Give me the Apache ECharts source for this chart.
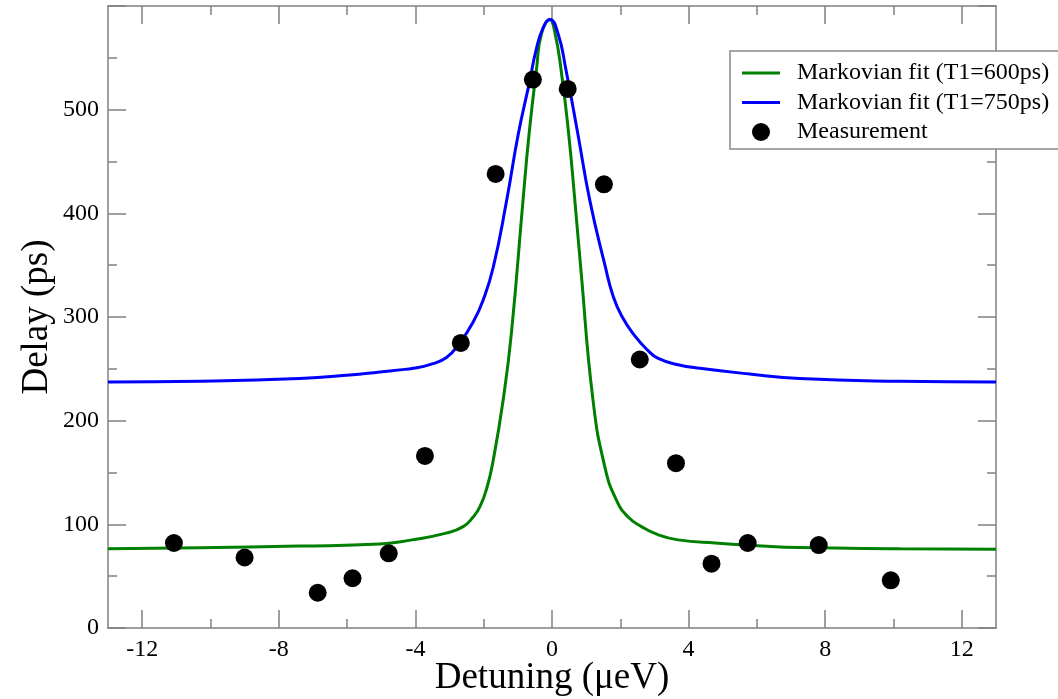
<!DOCTYPE html>
<html>
<head>
<meta charset="utf-8">
<script src="https://cdn.jsdelivr.net/npm/echarts@6/dist/echarts.min.js"></script>
<style>
  html, body { margin: 0; padding: 0; background: #fff; }
  #chart { width: 1058px; height: 699px; }
</style>
</head>
<body>
<div id="chart"></div>
<script>
// 数据
var greenX = [-13, -10.3, -7.4, -5.04, -4.1, -3.1, -2.6, -2.31, -2.11, -1.9, -1.72, -1.43, -1.19, -0.85, -0.67, -0.45, -0.31, -0.06, 0.08, 0.26, 0.49, 0.67, 0.84, 1.20, 1.55, 1.89, 2.23, 2.62, 3.1, 3.69, 4.77, 7.25, 10.2, 13];
var greenY = [76.5, 77.5, 79, 81, 85, 91.5, 97.8, 107, 117, 136, 162, 220, 284, 412, 477, 540, 573, 587, 575, 540, 476, 412, 348, 220, 155, 123, 107, 97.8, 90, 85, 82, 77.6, 76.5, 76];
var blueX = [-13, -10.3, -7.39, -5.92, -5.04, -4.46, -4.06, -3.58, -3.09, -2.70, -2.31, -2.02, -1.72, -1.33, -0.99, -0.65, -0.47, -0.26, -0.06, 0.18, 0.40, 0.76, 1.11, 1.55, 1.79, 2.04, 2.42, 2.8, 3.11, 3.69, 4.33, 5.79, 7.25, 10.18, 13];
var blueY = [237.3, 238, 240.6, 244, 247, 249, 250.5, 254, 261, 275, 295, 316, 348, 412, 476, 528, 557, 579, 587, 573, 540, 476, 412, 350, 320, 301, 282, 268, 260, 254, 250.5, 245, 240.6, 238, 237.3];
var measX = [-11.07, -9.0, -6.86, -5.84, -4.78, -3.72, -2.67, -1.65, -0.56, 0.46, 1.52, 2.57, 3.63, 4.67, 5.73, 7.81, 9.92];
var measY = [82, 68, 34, 48, 72, 166, 275, 438, 529, 520, 428, 259, 159, 62, 82, 80, 46];
var xMajor = [-12, -8, -4, 0, 4, 8, 12];
var xMinor = [-10, -6, -2, 2, 6, 10];
var names = ['Markovian fit (T1=600ps)', 'Markovian fit (T1=750ps)', 'Measurement'];

function zip(xs, ys) {
    var out = [];
    for (var i = 0; i < xs.length; i++) out.push([xs[i], ys[i]]);
    return out;
}

var FONT = 'Liberation Serif';
var axisGrey = '#808080';
var lineIcon = 'path://M0,0H38V3H0Z';

// x 轴：主刻度 + 次刻度，上下两边
function xAx(pos, ticks, len, showLabel, showLine) {
    return {
        type: 'value', position: pos, min: -13, max: 13,
        axisLine: { show: showLine, onZero: false, lineStyle: { color: axisGrey, width: 1.5 } },
        axisTick: { show: true, inside: true, length: len, customValues: ticks, lineStyle: { color: axisGrey, width: 1.5 } },
        axisLabel: { show: showLabel, customValues: ticks, color: '#000', fontFamily: FONT, fontSize: 24, margin: 10 },
        splitLine: { show: false }
    };
}

var xAxes = [
    xAx('bottom', xMajor, 18, true, true),
    xAx('bottom', xMinor, 9, false, false),
    xAx('top', xMajor, 18, false, true),
    xAx('top', xMinor, 9, false, false)
];
xAxes[0].name = 'Detuning (μeV)';
xAxes[0].nameLocation = 'middle';
xAxes[0].nameGap = 32;
xAxes[0].nameMoveOverlap = false;
xAxes[0].nameTextStyle = { color: '#000', fontFamily: FONT, fontSize: 37 };

function yAx(pos, showLabel) {
    return {
        type: 'value', position: pos, min: 0, max: 600, interval: 100,
        axisLine: { show: true, onZero: false, lineStyle: { color: axisGrey, width: 1.5 } },
        axisTick: { show: true, inside: true, length: 18, lineStyle: { color: axisGrey, width: 1.5 } },
        minorTick: { show: true, splitNumber: 2, length: 9, lineStyle: { color: axisGrey, width: 1.5 } },
        axisLabel: {
            show: showLabel, color: '#000', fontFamily: FONT, fontSize: 24, margin: 9,
            formatter: function (v) { return v >= 600 ? '' : String(v); }
        },
        splitLine: { show: false }
    };
}
var yAxes = [yAx('left', true), yAx('right', false)];
yAxes[0].name = 'Delay (ps)';
yAxes[0].nameLocation = 'middle';
yAxes[0].nameGap = 52;
yAxes[0].nameMoveOverlap = false;
yAxes[0].nameTextStyle = { color: '#000', fontFamily: FONT, fontSize: 37 };

var chart = echarts.init(document.getElementById('chart'));
var option = {
    animation: false,
    backgroundColor: '#fff',
    grid: { left: 108, right: 62, top: 6, bottom: 71, containLabel: false, outerBoundsMode: 'none' },
    legend: {
        orient: 'vertical', left: 730, top: 51,
        data: [
            { name: names[0], icon: lineIcon },
            { name: names[1], icon: lineIcon },
            { name: names[2], icon: 'circle' }
        ],
        itemWidth: 38, itemHeight: 18, itemGap: 5.5,
        padding: [10, 30, 5, 12],
        backgroundColor: '#fff', borderColor: '#888', borderWidth: 1.5, borderRadius: 0,
        textStyle: { color: '#000', fontFamily: FONT, fontSize: 24, padding: [0, 0, 0, 12] }
    },
    xAxis: xAxes,
    yAxis: yAxes,
    series: [
        {
            name: names[0], type: 'line', data: zip(greenX, greenY),
            symbol: 'none', smooth: 0.5,
            lineStyle: { color: '#008000', width: 3 }, itemStyle: { color: '#008000' }, z: 2
        },
        {
            name: names[1], type: 'line', data: zip(blueX, blueY),
            symbol: 'none', smooth: 0.5,
            lineStyle: { color: '#0000ff', width: 3 }, itemStyle: { color: '#0000ff' }, z: 2
        },
        {
            name: names[2], type: 'scatter', data: zip(measX, measY),
            symbol: 'circle', symbolSize: 18,
            itemStyle: { color: '#000', opacity: 1 }, z: 3
        }
    ]
};
chart.setOption(option, true);
</script>
</body>
</html>
